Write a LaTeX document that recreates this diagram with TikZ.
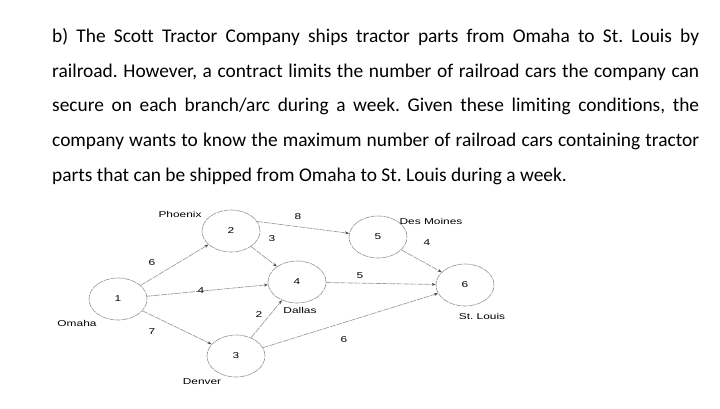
\documentclass[tikz,border=0pt]{standalone}
\usepackage{graphicx}
\usepackage{fontspec}
\setmainfont[Ligatures=NoCommon]{Carlito}
\newfontfamily\diagfont{Liberation Sans}
\usetikzlibrary{shapes.geometric,arrows.meta}
\newcommand\widetxt[1]{\scalebox{1.4}[1]{#1}}
\frenchspacing
\begin{document}
\begin{tikzpicture}[x=1pt,y=-1pt,
  city/.style={draw=gray!85, line width=0.6pt, dash pattern=on 6pt off 0.8pt, ellipse,
    minimum width=58pt, minimum height=42pt, inner sep=0pt,
    font=\diagfont\fontsize{8.5}{10}\selectfont, text=black},
  arc/.style={draw=gray!80, line width=0.65pt, dash pattern=on 6pt off 1pt,
    -{Stealth[length=4pt,width=3pt,color=black!70]}},
  lbl/.style={inner sep=0pt, font=\diagfont\fontsize{8.5}{10}\selectfont, text=black},
  para/.style={anchor=base west, inner sep=0pt, font=\fontsize{19.4}{22}\selectfont}]
\useasboundingbox[fill=white] (0,0) rectangle (720,409);

% paragraph
\node[para] (l1) at (52,42.3) {\makebox[647pt][s]{b) The Scott Tractor Company ships tractor parts from Omaha to St. Louis by}};
\node[para] (l2) at (52,77.2) {\makebox[647pt][s]{railroad. However, a contract limits the number of railroad cars the company can}};
\node[para] (l3) at (52,112) {\makebox[647pt][s]{secure on each branch/arc during a week. Given these limiting conditions, the}};
\node[para] (l4) at (52,146.9) {\makebox[647pt][s]{company wants to know the maximum number of railroad cars containing tractor}};
\node[para] (l5) at (52,181.7) {parts that can be shipped from Omaha to St. Louis during a week.};

% nodes
\node[city] (n1) at (118,299) {\widetxt{1}};
\node[city] (n2) at (231,231) {\widetxt{2}};
\node[city] (n3) at (236,356) {\widetxt{3}};
\node[city] (n4) at (297,282) {\widetxt{4}};
\node[city] (n5) at (378,237) {\widetxt{5}};
\node[city] (n6) at (465,285) {\widetxt{6}};

% city names
\node[lbl] (phx) at (180,214) {\widetxt{Phoenix}};
\node[lbl] (oma) at (77,323) {\widetxt{Omaha}};
\node[lbl] (den) at (202,382) {\widetxt{Denver}};
\node[lbl] (dal) at (300,310) {\widetxt{Dallas}};
\node[lbl] (dsm) at (431,221) {\widetxt{Des Moines}};
\node[lbl] (stl) at (482,316) {\widetxt{St. Louis}};

% arcs
\draw[arc] (n1) -- (n2);
\draw[arc] (n1) -- (n4);
\draw[arc] (n1) -- (n3);
\draw[arc] (n2) -- (n4);
\draw[arc] (n3) -- (n4);
\draw[arc] (n2.20) -- (n5);
\draw[arc] (n4) -- (n6);
\draw[arc] (n5) -- (n6);
\draw[arc] (n3) -- (n6);

% capacities
\node[lbl] (c12) at (152,263) {\widetxt{6}};
\node[lbl] (c14) at (201,291) {\widetxt{4}};
\node[lbl] (c13) at (152,332) {\widetxt{7}};
\node[lbl] (c24) at (272,239) {\widetxt{3}};
\node[lbl] (c34) at (259,315) {\widetxt{2}};
\node[lbl] (c25) at (298,217) {\widetxt{8}};
\node[lbl] (c46) at (360,276) {\widetxt{5}};
\node[lbl] (c56) at (427,243) {\widetxt{4}};
\node[lbl] (c36) at (344,340) {\widetxt{6}};
\end{tikzpicture}
\end{document}
